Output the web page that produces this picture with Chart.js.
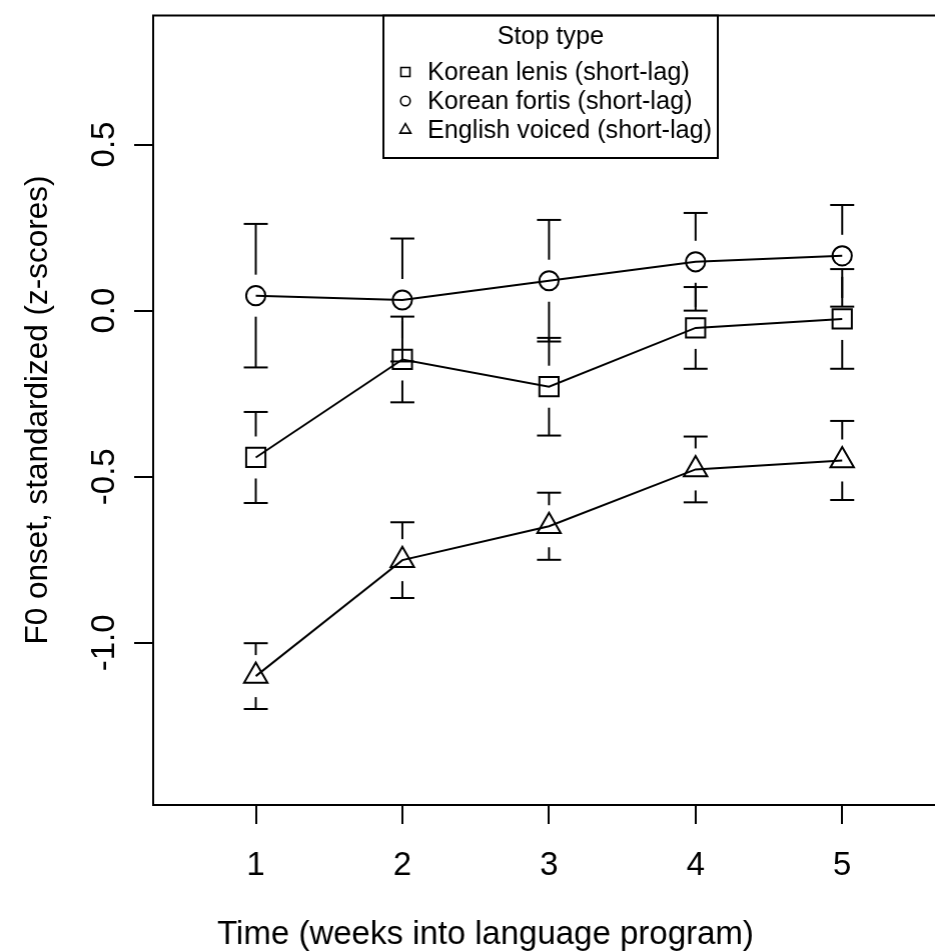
<!DOCTYPE html>
<html><head><meta charset="utf-8">
<script src="https://cdn.jsdelivr.net/npm/chart.js@4.4.1/dist/chart.umd.min.js"></script>
<style>
html,body{margin:0;padding:0;background:#fff;overflow:hidden;}
#wrap{position:relative;width:935px;height:951px;overflow:hidden;}
canvas{display:block;}
</style></head><body>
<div id="wrap"><canvas id="c" width="935" height="951"></canvas></div>
<script>
// ---- data ----
const weeks = [1, 2, 3, 4, 5];
const xTickLabels = ['1', '2', '3', '4', '5'];
const yTickValues = [-1.0, -0.5, 0.0, 0.5];
const yTickLabels = ['-1.0', '-0.5', '0.0', '0.5'];
const seriesNames = ['Korean lenis (short-lag)', 'Korean fortis (short-lag)', 'English voiced (short-lag)'];
const lenisMean   = [-0.442, -0.147, -0.229, -0.052, -0.025];
const lenisErr    = [0.137, 0.129, 0.147, 0.123, 0.150];
const fortisMean  = [0.045, 0.032, 0.090, 0.147, 0.165];
const fortisErr   = [0.216, 0.185, 0.183, 0.147, 0.153];
const englishMean = [-1.100, -0.751, -0.649, -0.478, -0.451];
const englishErr  = [0.099, 0.114, 0.101, 0.099, 0.119];
const legendTitle = 'Stop type';
const xTitle = 'Time (weeks into language program)';
const yTitle = 'F0 onset, standardized (z-scores)';

// ---- styling ----
const FONT = '"Liberation Sans", Arial, Helvetica, sans-serif';
const AX_FONT = 33;
const YT_FONT = 31.5;
const LEG_FONT = 25.2;
const GAP = 21, CAP = 12;
const X_MIN = 0.3, X_MAX = 5.636, Y_MIN = -1.488, Y_MAX = 0.888;
const AREA = {left: 153, top: 13, right: 935, bottom: 805};

function mk(name, mean, err, style, r) {
  return {
    label: name,
    data: weeks.map((w, i) => ({x: w, y: mean[i]})),
    errors: err,
    showLine: true,
    borderColor: '#000',
    borderWidth: 2,
    pointStyle: style,
    pointRadius: r,
    pointHoverRadius: r,
    pointBorderWidth: 2,
    pointBorderColor: '#000',
    pointBackgroundColor: 'rgba(0,0,0,0)',
    legStyle: style
  };
}

function line(ctx, x1, y1, x2, y2) {
  ctx.beginPath(); ctx.moveTo(x1, y1); ctx.lineTo(x2, y2); ctx.stroke();
}

const decor = {
  id: 'decor',
  beforeDatasetsDraw(chart) {
    const ctx = chart.ctx, xs = chart.scales.x, ys = chart.scales.y;
    ctx.save();
    ctx.strokeStyle = '#000'; ctx.lineWidth = 2; ctx.lineCap = 'butt';
    chart.data.datasets.forEach(ds => {
      ds.data.forEach((p, i) => {
        const x = xs.getPixelForValue(p.x);
        const yc = ys.getPixelForValue(p.y);
        const yu = ys.getPixelForValue(p.y + ds.errors[i]);
        const yl = ys.getPixelForValue(p.y - ds.errors[i]);
        if (yc - yu > GAP) { line(ctx, x, yc - GAP, x, yu); line(ctx, x - CAP, yu, x + CAP, yu); }
        if (yl - yc > GAP) { line(ctx, x, yc + GAP, x, yl); line(ctx, x - CAP, yl, x + CAP, yl); }
      });
    });
    ctx.restore();
  },
  afterDraw(chart) {
    const ctx = chart.ctx, xs = chart.scales.x, ys = chart.scales.y, a = chart.chartArea;
    ctx.save();
    ctx.strokeStyle = '#000'; ctx.lineWidth = 2;
    // top frame line
    line(ctx, a.left - 1, a.top, a.right, a.top);
    ctx.fillStyle = '#000';
    ctx.font = AX_FONT + 'px ' + FONT;
    // x tick labels
    ctx.textAlign = 'center'; ctx.textBaseline = 'middle';
    weeks.forEach((w, i) => ctx.fillText(xTickLabels[i], xs.getPixelForValue(w), 866));
    // y tick labels (rotated)
    yTickValues.forEach((v, i) => {
      ctx.save();
      ctx.translate(105, ys.getPixelForValue(v));
      ctx.rotate(-Math.PI / 2);
      ctx.fillText(yTickLabels[i], 0, 0);
      ctx.restore();
    });
    // axis titles
    ctx.fillText(xTitle, 485, 935);
    ctx.save();
    ctx.font = YT_FONT + 'px ' + FONT;
    ctx.translate(38, 410);
    ctx.rotate(-Math.PI / 2);
    ctx.fillText(yTitle, 0, 0);
    ctx.restore();

    // legend box
    const lx = 383, lr = 717, lt = a.top, lb = 158;
    ctx.fillStyle = '#fff';
    ctx.fillRect(lx, lt, lr - lx, lb - lt);
    ctx.strokeRect(lx, lt, lr - lx, lb - lt);
    ctx.fillStyle = '#000';
    ctx.font = LEG_FONT + 'px ' + FONT;
    ctx.textAlign = 'center';
    ctx.fillText(legendTitle, (lx + lr) / 2, 37);
    ctx.textAlign = 'left';
    const rows = [72, 101, 130];
    chart.data.datasets.forEach((ds, i) => {
      const cx = 405, cy = rows[i];
      ctx.lineWidth = 1.6;
      ctx.beginPath();
      if (ds.legStyle === 'rect') {
        ctx.rect(cx - 4.5, cy - 4.5, 9, 9);
      } else if (ds.legStyle === 'circle') {
        ctx.arc(cx, cy, 4.8, 0, Math.PI * 2);
      } else {
        const r = 6.3;
        ctx.moveTo(cx, cy - r);
        ctx.lineTo(cx + r * 0.866, cy + r * 0.5);
        ctx.lineTo(cx - r * 0.866, cy + r * 0.5);
        ctx.closePath();
      }
      ctx.stroke();
      ctx.fillText(ds.label, 427, cy + 1);
    });
    ctx.restore();
  }
};

function build(canvasW, padTop, padLeft) {
  const cv = document.getElementById('c');
  cv.width = canvasW; cv.height = 951;
  cv.style.width = canvasW + 'px'; cv.style.height = '951px';
  const datasets = [
    mk(seriesNames[0], lenisMean, lenisErr, 'rect', 13.6),
    mk(seriesNames[1], fortisMean, fortisErr, 'circle', 9.6),
    mk(seriesNames[2], englishMean, englishErr, 'triangle', 13.5)
  ];
  return new Chart(cv, {
    type: 'scatter',
    data: {datasets},
    options: {
      responsive: false,
      animation: false,
      devicePixelRatio: 1,
      layout: {padding: {top: padTop, right: 0, bottom: 0, left: padLeft}},
      plugins: {legend: {display: false}, tooltip: {enabled: false}},
      scales: {
        x: {
          type: 'linear', min: X_MIN, max: X_MAX,
          afterBuildTicks: s => { s.ticks = weeks.map(v => ({value: v})); },
          afterFit: s => { s.height = 951 - AREA.bottom; s.paddingLeft = 0; s.paddingRight = 0; },
          ticks: {display: false},
          grid: {drawOnChartArea: false, drawTicks: true, tickLength: 19, color: '#000', lineWidth: 2},
          border: {display: true, color: '#000', width: 2}
        },
        y: {
          type: 'linear', min: Y_MIN, max: Y_MAX,
          afterBuildTicks: s => { s.ticks = yTickValues.map(v => ({value: v})); },
          afterFit: s => { s.width = AREA.left - padLeft; s.paddingTop = 0; s.paddingBottom = 0; },
          ticks: {display: false},
          grid: {drawOnChartArea: false, drawTicks: true, tickLength: 19, color: '#000', lineWidth: 2},
          border: {display: true, color: '#000', width: 2}
        }
      }
    },
    plugins: [decor]
  });
}

let chart = build(935, AREA.top, 0);
const a0 = chart.chartArea;
const dr = AREA.right - a0.right, dt = AREA.top - a0.top, dl = AREA.left - a0.left;
if (Math.abs(dr) > 0.5 || Math.abs(dt) > 0.5 || Math.abs(dl) > 0.5) {
  chart.destroy();
  chart = build(935 + Math.max(dr, 0), AREA.top + dt, 0);
}
</script>
</body></html>
